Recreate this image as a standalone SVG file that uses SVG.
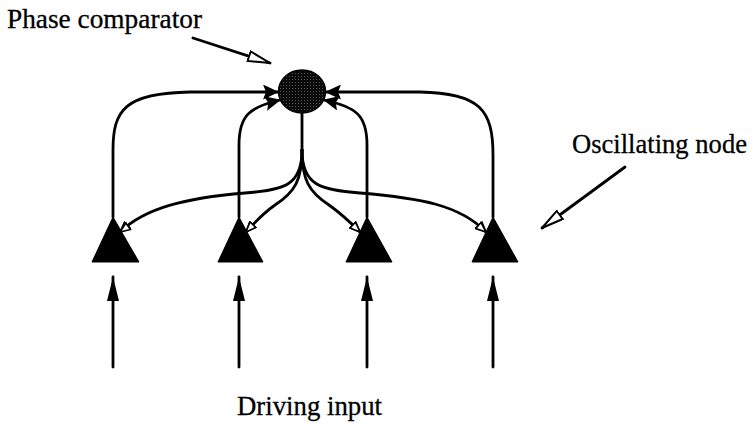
<svg xmlns="http://www.w3.org/2000/svg" width="755" height="427" viewBox="0 0 755 427">
  <style>
    .lbl { font-family: "Liberation Serif", "Times New Roman", serif; font-size: 27px; fill: #000; stroke: #000; stroke-width: 0.3; }
    .wire { fill: none; stroke: #000; stroke-width: 2.8; stroke-linecap: round; stroke-linejoin: round; }
    .tri { fill: #000; stroke: #000; stroke-width: 1; stroke-linejoin: miter; }
  </style>
  <defs>
    <!-- solid head used where connections enter the comparator -->
    <marker id="solid" viewBox="0 0 16 15" refX="15" refY="7.5" markerWidth="16" markerHeight="15" orient="auto" markerUnits="userSpaceOnUse">
      <path d="M0,0 L16,7.5 L0,15 L3,7.5 Z" fill="#000"/>
    </marker>
    <!-- small open head where feedback lands on each node -->
    <marker id="open" viewBox="0 0 12 10" refX="11" refY="5" markerWidth="12" markerHeight="10" orient="auto" markerUnits="userSpaceOnUse">
      <path d="M1,1 L11,5 L1,9 Z" fill="#fff" stroke="#000" stroke-width="1.6" stroke-linejoin="miter"/>
    </marker>
    <!-- narrow head for the driving inputs -->
    <marker id="input" viewBox="0 0 24 13" refX="24" refY="6.5" markerWidth="24" markerHeight="13" orient="auto" markerUnits="userSpaceOnUse">
      <path d="M0,0.5 L24,6.5 L0,12.5 Z" fill="#000"/>
    </marker>
    <!-- open head for the label pointers -->
    <marker id="pointer" viewBox="0 0 24 12" refX="23" refY="6" markerWidth="24" markerHeight="12" orient="auto" markerUnits="userSpaceOnUse">
      <path d="M1,1 L23,6 L1,11 Z" fill="#fff" stroke="#000" stroke-width="2" stroke-linejoin="miter"/>
    </marker>
    <pattern id="stipple" width="3" height="3" patternUnits="userSpaceOnUse">
      <rect width="3" height="3" fill="#0a0a0a"/>
      <rect x="1" y="1" width="1" height="1" fill="#555"/>
    </pattern>
  </defs>

  <!-- labels -->
  <text class="lbl" x="7" y="28" textLength="195" lengthAdjust="spacingAndGlyphs">Phase comparator</text>
  <text class="lbl" x="572" y="153" textLength="175" lengthAdjust="spacingAndGlyphs">Oscillating node</text>
  <text class="lbl" x="237" y="415" textLength="145" lengthAdjust="spacingAndGlyphs">Driving input</text>

  <g id="connectors">
    <!-- label pointers -->
    <path class="wire" d="M193,38 L270,63" marker-end="url(#pointer)"/>
    <path class="wire" d="M625,167 L542,228" marker-end="url(#pointer)"/>

    <!-- node to comparator -->
    <path class="wire" d="M113,217 L113,150 C113,110 125,93 190,92 L278,92" marker-end="url(#solid)"/>
    <path class="wire" d="M239,217 L239,145 C239,115 250,107 280,100" marker-end="url(#solid)"/>
    <path class="wire" d="M367,217 L367,145 C367,115 356,107 324,100" marker-end="url(#solid)"/>
    <path class="wire" d="M493,217 L493,155 C493,110 480,93 420,92 L326,92" marker-end="url(#solid)"/>

    <!-- comparator to nodes -->
    <path class="wire" d="M302,113 L302,150"/>
    <path class="wire" d="M302,150 C302,185 285,190 245,193 C185,198 145,208 120,232" marker-end="url(#open)"/>
    <path class="wire" d="M302,150 C302,180 295,192 275,205 C265,212 255,222 246,232" marker-end="url(#open)"/>
    <path class="wire" d="M302,150 C302,180 309,192 329,205 C339,212 350,222 360,232" marker-end="url(#open)"/>
    <path class="wire" d="M302,150 C302,185 320,190 360,193 C420,198 460,205 486,232" marker-end="url(#open)"/>

    <!-- driving inputs -->
    <path class="wire" d="M113,367 L113,277" marker-end="url(#input)"/>
    <path class="wire" d="M239,367 L239,277" marker-end="url(#input)"/>
    <path class="wire" d="M367,367 L367,277" marker-end="url(#input)"/>
    <path class="wire" d="M493,367 L493,277" marker-end="url(#input)"/>
  </g>

  <g id="comparator">
    <ellipse cx="302" cy="91.5" rx="23.5" ry="21.5" fill="url(#stipple)" stroke="#000" stroke-width="1.5"/>
  </g>

  <g id="node1"><path class="tri" d="M113,217 L92,262 L139,262 Z"/></g>
  <g id="node2"><path class="tri" d="M239,217 L218,262 L263,262 Z"/></g>
  <g id="node3"><path class="tri" d="M367,217 L346,262 L392,262 Z"/></g>
  <g id="node4"><path class="tri" d="M493,217 L472,262 L518,262 Z"/></g>

  <!-- feedback heads drawn over the node bodies -->
  <g id="feedback-heads">
    <path class="wire" d="M147,213 L120,232" stroke-opacity="0" marker-end="url(#open)"/>
    <path class="wire" d="M265,212 L246,232" stroke-opacity="0" marker-end="url(#open)"/>
    <path class="wire" d="M339,212 L360,232" stroke-opacity="0" marker-end="url(#open)"/>
    <path class="wire" d="M460,210 L486,232" stroke-opacity="0" marker-end="url(#open)"/>
  </g>
</svg>
